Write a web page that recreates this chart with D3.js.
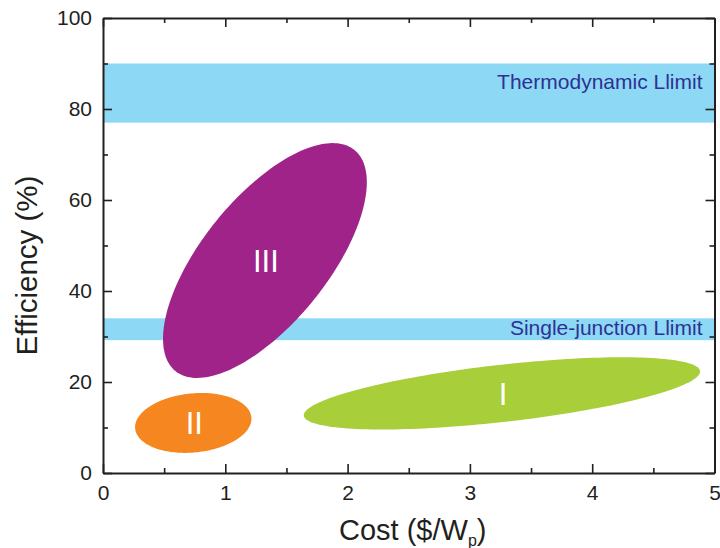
<!DOCTYPE html>
<html>
<head>
<meta charset="utf-8">
<script src="https://cdn.jsdelivr.net/npm/d3@7"></script>
<style>
  html, body { margin: 0; padding: 0; background: #fff; }
  svg { display: block; }
  text { font-family: "Liberation Sans", Arial, Helvetica, sans-serif; }
</style>
</head>
<body>
<svg id="chart" width="720" height="548"></svg>
<script>
// Axis ranges and ticks
const xDomain = [0, 5];
const yDomain = [0, 100];
const xMajorTicks = [0, 1, 2, 3, 4, 5];
const xMinorTicks = [0.5, 1.5, 2.5, 3.5, 4.5];
const yMajorTicks = [0, 20, 40, 60, 80, 100];
const yMinorTicks = [10, 30, 50, 70, 90];

// Efficiency limits (low, high in %) and their captions
const limitNames = ["Thermodynamic Llimit", "Single-junction Llimit"];
const limitLow = [77, 29.2];
const limitHigh = [90, 34];
const limitCaptionEff = [86, 31.9];

// Solar-cell generations drawn as ellipses in (cost, efficiency) space:
// centre, end of the long semi-axis, end of the short semi-axis
const genNames = ["I", "II", "III"];
const genCenterCost = [3.262, 0.738, 1.324];
const genCenterEff = [17.5, 11.0, 46.7];
const genMajorCost = [4.882, 1.213, 2.056];
const genMajorEff = [22.4, 12.26, 71.0];
const genMinorCost = [3.236, 0.714, 0.926];
const genMinorEff = [23.74, 17.46, 55.4];
const genColors = ["#a8ce3a", "#f58620", "#a0238a"];

const svg = d3.select("#chart");
const plot = { left: 103, right: 714.5, top: 18, bottom: 473 };

const x = d3.scaleLinear().domain(xDomain).range([plot.left, plot.right]);
const y = d3.scaleLinear().domain(yDomain).range([plot.bottom, plot.top]);

const axisColor = "#231f20";

// Limit bands
const bands = svg.append("g");
limitNames.forEach((name, i) => {
  bands.append("rect")
    .attr("x", x(xDomain[0]))
    .attr("width", x(xDomain[1]) - x(xDomain[0]))
    .attr("y", y(limitHigh[i]))
    .attr("height", y(limitLow[i]) - y(limitHigh[i]))
    .attr("fill", "#8dd8f5");
});

// Ellipses for each generation (affine image of a circle in data space)
const line = d3.line().x(d => x(d[0])).y(d => y(d[1])).curve(d3.curveLinearClosed);
const angles = d3.range(0, 360, 2).map(a => a * Math.PI / 180);
const gens = svg.append("g");
genNames.forEach((name, i) => {
  const cx = genCenterCost[i], cy = genCenterEff[i];
  const ax = genMajorCost[i] - cx, ay = genMajorEff[i] - cy;
  const bx = genMinorCost[i] - cx, by = genMinorEff[i] - cy;
  const pts = angles.map(t => [cx + ax * Math.cos(t) + bx * Math.sin(t),
                               cy + ay * Math.cos(t) + by * Math.sin(t)]);
  gens.append("path").attr("d", line(pts)).attr("fill", genColors[i]);
  gens.append("text")
    .attr("x", x(cx) + 1)
    .attr("y", y(cy))
    .attr("dy", "0.36em")
    .attr("text-anchor", "middle")
    .attr("fill", "#fff")
    .attr("font-size", 31)
    .text(name);
});

// Band captions
limitNames.forEach((name, i) => {
  svg.append("text")
    .attr("x", plot.right - 12)
    .attr("y", y(limitCaptionEff[i]))
    .attr("dy", "0.36em")
    .attr("text-anchor", "end")
    .attr("fill", "#2e3192")
    .attr("font-size", 21)
    .text(name);
});

// Axes with inward ticks on all four sides
function drawAxis(axisFn, scale, major, minor, transform, labels) {
  const g = svg.append("g").attr("transform", transform);
  g.call(axisFn(scale).tickValues(major).tickSizeInner(-9).tickSizeOuter(0)
    .tickPadding(labels ? 16 : 0).tickFormat(labels ? d3.format("d") : ""));
  g.append("g").call(axisFn(scale).tickValues(minor).tickSizeInner(-5).tickSizeOuter(0).tickFormat(""))
    .select(".domain").remove();
  g.selectAll(".domain").attr("stroke", axisColor).attr("stroke-width", 2);
  g.selectAll(".tick line").attr("stroke", axisColor).attr("stroke-width", 1.6);
  g.selectAll(".tick text").attr("fill", axisColor).attr("font-size", 21)
    .attr("font-family", "'Liberation Sans', Arial, sans-serif");
  return g;
}
const gx = drawAxis(d3.axisBottom, x, xMajorTicks, xMinorTicks, `translate(0,${plot.bottom})`, true);
gx.selectAll(".tick text").attr("dy", "0.71em").attr("y", 12);
drawAxis(d3.axisTop, x, xMajorTicks, xMinorTicks, `translate(0,${plot.top})`, false);
const gy = drawAxis(d3.axisLeft, y, yMajorTicks, yMinorTicks, `translate(${plot.left},0)`, true);
gy.selectAll(".tick text").attr("x", -11);
drawAxis(d3.axisRight, y, yMajorTicks, yMinorTicks, `translate(${plot.right},0)`, false);

// Axis titles
const xt = svg.append("text")
  .attr("x", (plot.left + plot.right) / 2 + 4)
  .attr("y", 540)
  .attr("text-anchor", "middle")
  .attr("fill", axisColor)
  .attr("font-size", 29);
xt.append("tspan").text("Cost ($/W");
xt.append("tspan").attr("font-size", 16).attr("dy", 6).text("p");
xt.append("tspan").attr("dy", -6).text(")");

svg.append("text")
  .attr("transform", `translate(37,${(plot.top + plot.bottom) / 2 + 20}) rotate(-90)`)
  .attr("text-anchor", "middle")
  .attr("fill", axisColor)
  .attr("font-size", 29.5)
  .text("Efficiency (%)");
</script>
</body>
</html>
